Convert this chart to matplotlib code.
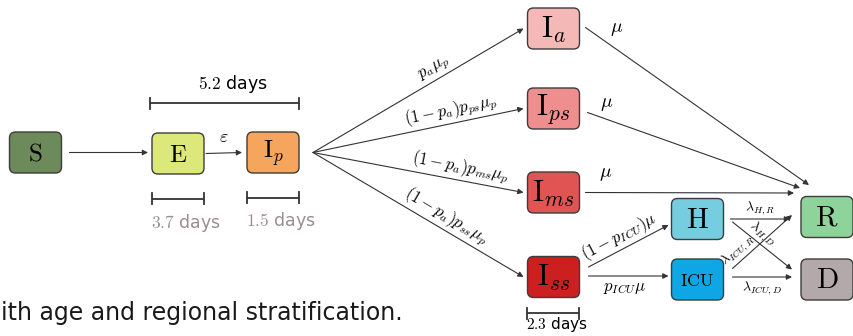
import numpy as np
import matplotlib
matplotlib.use('Agg')
import matplotlib.pyplot as plt
from matplotlib.patches import FancyBboxPatch

plt.rcParams['mathtext.fontset'] = 'cm'
plt.rcParams['font.family'] = ['DejaVu Sans']

# compartments: name -> (label, fill colour, font size)
node_names = ['S', 'E', 'Ip', 'Ia', 'Ips', 'Ims', 'Iss', 'H', 'ICU', 'R', 'D']
node_labels = [r'$\mathrm{S}$', r'$\mathrm{E}$', r'$\mathrm{I}_{p}$', r'$\mathrm{I}_{a}$',
               r'$\mathrm{I}_{ps}$', r'$\mathrm{I}_{ms}$', r'$\mathrm{I}_{ss}$',
               r'$\mathrm{H}$', r'$\mathrm{ICU}$', r'$\mathrm{R}$', r'$\mathrm{D}$']
node_colors = ['#6d8a5b', '#dde87b', '#f5a65c', '#f4b9b6', '#ee8e8e', '#e05454',
               '#cc1f1f', '#77cde0', '#0ea6e4', '#8ed49a', '#b3a8aa']
node_fontsize = [18, 18, 18, 22, 22, 22, 22, 21, 13, 21, 21]

# node centres in pixel layout (x right, y down)
node_xy = {
    'S': (35.5, 152.5), 'E': (178, 153.5), 'Ip': (273, 152.5),
    'Ia': (553.5, 28.5), 'Ips': (553.5, 108.5), 'Ims': (553.5, 192.5),
    'Iss': (553.5, 277), 'H': (697.5, 219), 'ICU': (697.5, 279.5),
    'R': (827, 217), 'D': (827, 279.5),
}
BW, BH = 52, 41

# transitions: (source, target, rate label)
edges = [
    ('S', 'E', ''),
    ('E', 'Ip', r'$\varepsilon$'),
    ('Ip', 'Ia', r'$p_a\mu_p$'),
    ('Ip', 'Ips', r'$(1-p_a)p_{ps}\mu_p$'),
    ('Ip', 'Ims', r'$(1-p_a)p_{ms}\mu_p$'),
    ('Ip', 'Iss', r'$(1-p_a)p_{ss}\mu_p$'),
    ('Ia', 'R', r'$\mu$'),
    ('Ips', 'R', r'$\mu$'),
    ('Ims', 'R', r'$\mu$'),
    ('Iss', 'H', r'$(1-p_{ICU})\mu$'),
    ('Iss', 'ICU', r'$p_{ICU}\mu$'),
    ('H', 'R', r'$\lambda_{H,R}$'),
    ('H', 'D', r'$\lambda_{H,D}$'),
    ('ICU', 'R', r'$\lambda_{ICU,R}$'),
    ('ICU', 'D', r'$\lambda_{ICU,D}$'),
]

# mean durations shown as brackets: (first node, last node, days, colour)
durations = [('E', 'Ip', 5.2, 'black'), ('E', 'E', 3.7, '#9b8c93'),
             ('Ip', 'Ip', 1.5, '#9b8c93'), ('Iss', 'Iss', 2.3, 'black')]

# arrow geometry: start/end offsets from box edges, label placement
# (start dx, start dy, end dx, end dy, label pos t, label offset, label side)
edge_geom = {
    ('S', 'E'): (8, 0, -4, -1, 0.5, 0, None),
    ('E', 'Ip'): (2, 0, -5, 0, 0.5, 0, None),
    ('Ip', 'Ia'): (14, 0, -4, 0, 0.6, 2, 'above'),
    ('Ip', 'Ips'): (14, 0, -4, 0, 0.67, 2, 'above'),
    ('Ip', 'Ims'): (14, 0, -4, 0, 0.69, 2, 'above'),
    ('Ip', 'Iss'): (14, 0, -4, 0, 0.6, 2, 'above'),
    ('Ia', 'R'): (6, -1, 8, -32, 0, 0, 'mu'),
    ('Ips', 'R'): (8, 4, -1, -29, 0, 0, 'mu'),
    ('Ims', 'R'): (6, 0, -7, -24, 0, 0, 'mu'),
    ('Iss', 'H'): (9, -10, -3, 6, 0.45, 1, 'above'),
    ('Iss', 'ICU'): (9, -1, -3, -3.5, 0.45, 2, 'below'),
    ('H', 'R'): (7, 0, -11, 2, 0.5, 2, 'above'),
    ('H', 'D'): (9, 3, -9, -10, 0.4, 1, 'above'),
    ('ICU', 'R'): (9, -11, -9, -2, 0.2, 1, 'above'),
    ('ICU', 'D'): (9, -2.5, -9, -2.5, 0.5, 2, 'below'),
}
mu_label_off = {('Ia', 'R'): (31, 1), ('Ips', 'R'): (19, -9), ('Ims', 'R'): (20, -19)}

fig = plt.figure(figsize=(8.54, 3.36), dpi=100)
ax = fig.add_axes([0, 0, 1, 1])
ax.set_xlim(0, 854)
ax.set_ylim(336, 0)
ax.axis('off')

# boxes
for name, lab, col, fs in zip(node_names, node_labels, node_colors, node_fontsize):
    cx, cy = node_xy[name]
    ax.add_patch(FancyBboxPatch((cx - BW / 2, cy - BH / 2), BW, BH,
                                boxstyle='round,pad=0,rounding_size=6',
                                fc=col, ec='#3c3c3c', lw=1.0, zorder=3))
    ax.text(cx, cy + 1, lab, fontsize=fs, ha='center', va='center', zorder=4)

# arrows and rate labels
for src, dst, lab in edges:
    sdx, sdy, edx, edy, t, off, side = edge_geom[(src, dst)]
    sx, sy = node_xy[src]
    tx, ty = node_xy[dst]
    p0 = np.array([sx + BW / 2 + sdx, sy + sdy])
    p1 = np.array([tx - BW / 2 + edx, ty + edy])
    ax.annotate('', xy=p1, xytext=p0,
                arrowprops=dict(arrowstyle='-|>', color='#333333', lw=0.8,
                                mutation_scale=8, shrinkA=0, shrinkB=0))
    if not lab:
        continue
    if side == 'mu':
        ox, oy = mu_label_off[(src, dst)]
        ax.text(p0[0] + ox, p0[1] + oy, lab, fontsize=14, ha='center', va='center')
        continue
    if side is None:
        ax.text((p0[0] + p1[0]) / 2, p0[1] - 17, lab, fontsize=13,
                ha='center', va='center')
        continue
    d = p1 - p0
    ang = -np.degrees(np.arctan2(d[1], d[0]))
    # unit normal pointing up on screen
    n = np.array([d[1], -d[0]]) / np.hypot(*d)
    if n[1] > 0:
        n = -n
    pos = p0 + t * d
    fs = 10 if lab.startswith(r'$\lambda') else 12
    if side == 'above':
        pos = pos + n * off
        va = 'bottom'
    else:
        pos = pos - n * off
        va = 'top'
    ax.text(pos[0], pos[1], lab, fontsize=fs, ha='center', va=va,
            rotation=ang, rotation_mode='anchor')

# duration brackets
for first, last, days, col in durations:
    x0 = node_xy[first][0] - BW / 2
    x1 = node_xy[last][0] + BW / 2
    label = rf'$\mathrm{{{days}}}$ days'
    if first != last:
        y = 103
        x0 -= 2
        ax.text((x0 + x1) / 2 + 8, y - 19, label, fontsize=12.5,
                color=col, ha='center', va='center')
    elif first == 'Iss':
        y = 313
        ax.text(x0 - 1, 334.5, label, fontsize=11, color=col,
                ha='left', va='bottom')
    else:
        y = node_xy[first][1] + 45
        ax.text(x0 - 1, y + 24, label, fontsize=12.5, color=col,
                ha='left', va='center')
    ax.plot([x0, x1], [y, y], color='#333333', lw=1.3, solid_capstyle='butt')
    ax.plot([x0, x0], [y - 5.5, y + 5.5], color='#333333', lw=1.3)
    ax.plot([x1, x1], [y - 5.5, y + 5.5], color='#333333', lw=1.3)

ax.text(1, 320, 'ith age and regional stratification.', fontsize=17,
        ha='left', va='baseline', color='#1a1a1a')

fig.savefig('out.png', dpi=100)
